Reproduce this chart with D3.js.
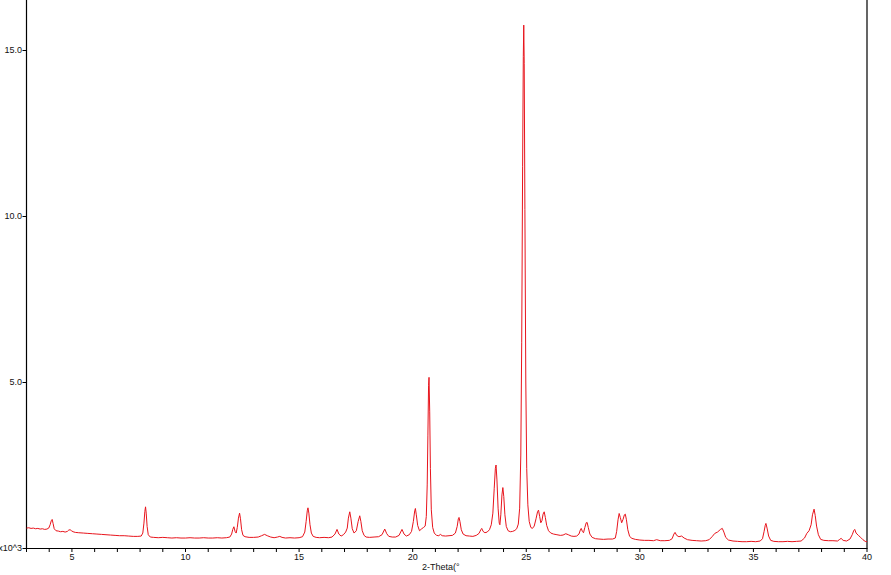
<!DOCTYPE html>
<html>
<head>
<meta charset="utf-8">
<script src="https://cdn.jsdelivr.net/npm/d3@7"></script>
<style>
    html, body { margin: 0; padding: 0; background: #fff; overflow: hidden; }
    svg { display: block; }
    text { font-family: "Liberation Sans", Arial, sans-serif; font-size: 9px; fill: #111; }
</style>
</head>
<body>
<div id="chart"></div>
<script>
// 2-Theta (deg) and counts (x10^3)
const scan = [
    [3.00,0.60],[3.10,0.61],[3.20,0.59],[3.30,0.60],[3.40,0.58],[3.50,0.59],[3.60,0.57],[3.70,0.58],
    [3.80,0.56],[3.90,0.57],[3.98,0.60],[4.04,0.70],[4.09,0.82],[4.13,0.86],[4.17,0.74],[4.22,0.58],
    [4.30,0.52],[4.40,0.51],[4.50,0.49],[4.60,0.50],[4.70,0.48],[4.80,0.50],[4.86,0.54],[4.92,0.55],
    [4.98,0.52],[5.05,0.49],[5.15,0.47],[5.30,0.46],[5.50,0.45],[5.70,0.44],[5.90,0.43],[6.10,0.42],
    [6.30,0.41],[6.50,0.40],[6.70,0.39],[6.90,0.38],[7.10,0.37],[7.30,0.37],[7.50,0.36],[7.70,0.35],
    [7.90,0.35],[8.05,0.36],[8.12,0.45],[8.17,0.75],[8.21,1.10],[8.24,1.24],[8.27,1.05],[8.31,0.65],
    [8.36,0.40],[8.45,0.33],[8.60,0.32],[8.80,0.31],[9.00,0.32],[9.20,0.31],[9.40,0.30],[9.60,0.31],
    [9.80,0.30],[10.00,0.30],[10.20,0.31],[10.40,0.30],[10.60,0.30],[10.80,0.31],[11.00,0.30],[11.20,0.30],
    [11.40,0.31],[11.60,0.30],[11.80,0.31],[11.95,0.33],[12.03,0.42],[12.08,0.56],[12.13,0.64],[12.18,0.50],
    [12.23,0.45],[12.28,0.62],[12.33,0.90],[12.38,1.05],[12.42,0.88],[12.47,0.55],[12.53,0.38],[12.62,0.34],
    [12.80,0.32],[13.00,0.32],[13.20,0.33],[13.35,0.37],[13.48,0.41],[13.60,0.37],[13.75,0.33],[13.90,0.31],
    [14.05,0.33],[14.15,0.35],[14.25,0.32],[14.40,0.30],[14.60,0.31],[14.80,0.30],[15.00,0.31],[15.15,0.34],
    [15.25,0.48],[15.31,0.80],[15.36,1.12],[15.39,1.21],[15.43,1.05],[15.48,0.70],[15.54,0.45],[15.62,0.35],
    [15.75,0.32],[15.90,0.31],[16.10,0.32],[16.30,0.31],[16.45,0.33],[16.58,0.42],[16.67,0.56],[16.75,0.42],
    [16.85,0.36],[16.95,0.40],[17.05,0.48],[17.12,0.60],[17.17,0.90],[17.23,1.09],[17.28,0.90],[17.34,0.58],
    [17.42,0.45],[17.52,0.52],[17.60,0.80],[17.67,0.97],[17.72,0.80],[17.78,0.52],[17.86,0.38],[17.95,0.33],
    [18.10,0.32],[18.30,0.33],[18.50,0.34],[18.65,0.40],[18.77,0.57],[18.86,0.43],[18.95,0.35],[19.10,0.33],
    [19.25,0.33],[19.40,0.38],[19.53,0.56],[19.62,0.42],[19.72,0.36],[19.85,0.40],[19.95,0.50],[20.03,0.80],
    [20.09,1.12],[20.12,1.19],[20.16,1.00],[20.22,0.68],[20.30,0.52],[20.40,0.58],[20.48,0.62],[20.55,0.66],
    [20.60,0.95],[20.64,1.90],[20.67,3.40],[20.70,4.90],[20.72,5.14],[20.75,4.10],[20.78,2.40],[20.82,1.15],
    [20.88,0.62],[20.95,0.45],[21.05,0.38],[21.15,0.37],[21.22,0.41],[21.30,0.37],[21.45,0.36],[21.60,0.37],
    [21.75,0.38],[21.88,0.45],[21.96,0.65],[22.01,0.88],[22.04,0.92],[22.08,0.80],[22.14,0.55],[22.22,0.42],
    [22.35,0.37],[22.50,0.36],[22.65,0.35],[22.80,0.38],[22.92,0.44],[23.00,0.55],[23.04,0.59],[23.10,0.50],
    [23.18,0.46],[23.28,0.48],[23.38,0.55],[23.46,0.70],[23.53,1.05],[23.59,1.80],[23.64,2.40],[23.67,2.50],
    [23.71,2.05],[23.76,1.20],[23.81,0.75],[23.84,0.70],[23.88,1.00],[23.93,1.60],[23.97,1.82],[24.01,1.55],
    [24.06,1.00],[24.12,0.65],[24.20,0.52],[24.30,0.49],[24.40,0.50],[24.50,0.53],[24.58,0.58],[24.65,0.72],
    [24.71,1.20],[24.76,2.80],[24.80,6.20],[24.84,11.50],[24.87,14.80],[24.89,15.75],[24.91,14.60],[24.94,10.20],
    [24.98,5.00],[25.02,2.40],[25.07,1.30],[25.13,0.80],[25.20,0.62],[25.27,0.59],[25.35,0.66],[25.43,0.88],
    [25.50,1.10],[25.54,1.14],[25.59,0.95],[25.64,0.76],[25.69,0.82],[25.74,1.02],[25.79,1.09],[25.84,0.92],
    [25.90,0.68],[25.98,0.52],[26.08,0.45],[26.20,0.42],[26.35,0.40],[26.50,0.38],[26.62,0.39],[26.74,0.43],
    [26.85,0.40],[26.98,0.36],[27.10,0.35],[27.22,0.36],[27.32,0.42],[27.38,0.54],[27.42,0.59],[27.47,0.50],
    [27.52,0.46],[27.58,0.62],[27.64,0.76],[27.68,0.77],[27.73,0.62],[27.80,0.42],[27.90,0.32],[28.05,0.28],
    [28.20,0.27],[28.40,0.26],[28.60,0.27],[28.80,0.27],[28.92,0.30],[28.98,0.50],[29.04,0.85],[29.09,1.04],
    [29.14,0.92],[29.20,0.76],[29.26,0.86],[29.32,1.00],[29.36,1.02],[29.41,0.85],[29.47,0.55],[29.55,0.35],
    [29.65,0.29],[29.80,0.26],[30.00,0.24],[30.20,0.23],[30.40,0.23],[30.60,0.22],[30.74,0.25],[30.90,0.22],
    [31.10,0.22],[31.30,0.23],[31.42,0.28],[31.50,0.42],[31.55,0.47],[31.62,0.38],[31.72,0.34],[31.84,0.36],
    [31.95,0.30],[32.10,0.25],[32.30,0.23],[32.50,0.22],[32.70,0.21],[32.90,0.22],[33.05,0.25],[33.18,0.34],
    [33.30,0.44],[33.42,0.48],[33.55,0.56],[33.63,0.59],[33.70,0.48],[33.78,0.32],[33.90,0.24],[34.10,0.21],
    [34.30,0.20],[34.50,0.19],[34.70,0.19],[34.90,0.20],[35.10,0.19],[35.30,0.21],[35.40,0.28],[35.47,0.50],
    [35.52,0.68],[35.55,0.74],[35.60,0.60],[35.67,0.36],[35.76,0.23],[35.90,0.20],[36.10,0.19],[36.30,0.19],
    [36.50,0.20],[36.70,0.19],[36.90,0.20],[37.10,0.21],[37.25,0.30],[37.35,0.44],[37.45,0.52],[37.54,0.70],
    [37.60,1.00],[37.67,1.17],[37.72,0.98],[37.78,0.66],[37.86,0.40],[37.96,0.26],[38.10,0.23],[38.30,0.22],
    [38.50,0.22],[38.70,0.21],[38.80,0.26],[38.86,0.29],[38.95,0.23],[39.10,0.21],[39.25,0.27],[39.35,0.40],
    [39.42,0.53],[39.46,0.56],[39.52,0.45],[39.62,0.38],[39.72,0.32],[39.82,0.25],[39.92,0.20],[40.00,0.19]
];
const xDomain = [3, 40];
const xMinorTicks = d3.range(3, 41, 1);
const xMajorTicks = [5, 10, 15, 20, 25, 30, 35, 40];
const yTicks = [0, 5, 10, 15];
const yTickLabels = ["x10^3", "5.0", "10.0", "15.0"];

(function () {
    const WIDTH = 891;
    const HEIGHT = 575;
    const LEFT = 26.5;
    const RIGHT = 867;
    const BOTTOM = 548;
    const TICK = 4;

    let x = d3.scaleLinear().domain(xDomain).range([LEFT, RIGHT]);
    let y = d3.scaleLinear().domain([0, 15]).range([BOTTOM, 50]);

    let svg = d3.select("#chart")
        .append("svg")
        .attr("width", WIDTH)
        .attr("height", HEIGHT);

    // frame: left, right and bottom only, the top runs off the page
    svg.append("path")
        .attr("d", `M${LEFT},0V${BOTTOM + 0.5}H${RIGHT}V0`)
        .attr("fill", "none")
        .attr("stroke", "#000")
        .attr("stroke-width", 1.2);

    // x ticks: one per degree, labels every five
    let xAxis = svg.append("g");
    xAxis.selectAll("line")
        .data(xMinorTicks)
        .join("line")
        .attr("x1", d => x(d))
        .attr("x2", d => x(d))
        .attr("y1", BOTTOM)
        .attr("y2", BOTTOM + TICK)
        .attr("stroke", "#000");
    xAxis.selectAll("text")
        .data(xMajorTicks)
        .join("text")
        .attr("x", d => x(d))
        .attr("y", BOTTOM + 12)
        .attr("text-anchor", "middle")
        .text(d => d);

    // y ticks point left, the zero tick carries the unit
    let yAxis = svg.append("g");
    yAxis.selectAll("line")
        .data(yTicks)
        .join("line")
        .attr("x1", LEFT - TICK)
        .attr("x2", LEFT)
        .attr("y1", d => Math.round(y(d)) + 0.5)
        .attr("y2", d => Math.round(y(d)) + 0.5)
        .attr("stroke", "#000");
    yAxis.selectAll("text")
        .data(yTicks)
        .join("text")
        .attr("x", LEFT - TICK - 0.5)
        .attr("y", d => y(d))
        .attr("dy", "0.35em")
        .attr("text-anchor", "end")
        .text((d, i) => yTickLabels[i]);

    svg.append("text")
        .attr("x", 422)
        .attr("y", 570)
        .text("2-Theta(°");

    let line = d3.line()
        .x(d => x(d[0]))
        .y(d => y(d[1]));

    svg.append("path")
        .datum(scan)
        .attr("d", line)
        .attr("fill", "none")
        .attr("stroke", "#e8141c")
        .attr("stroke-width", 1);
})();
</script>
</body>
</html>
